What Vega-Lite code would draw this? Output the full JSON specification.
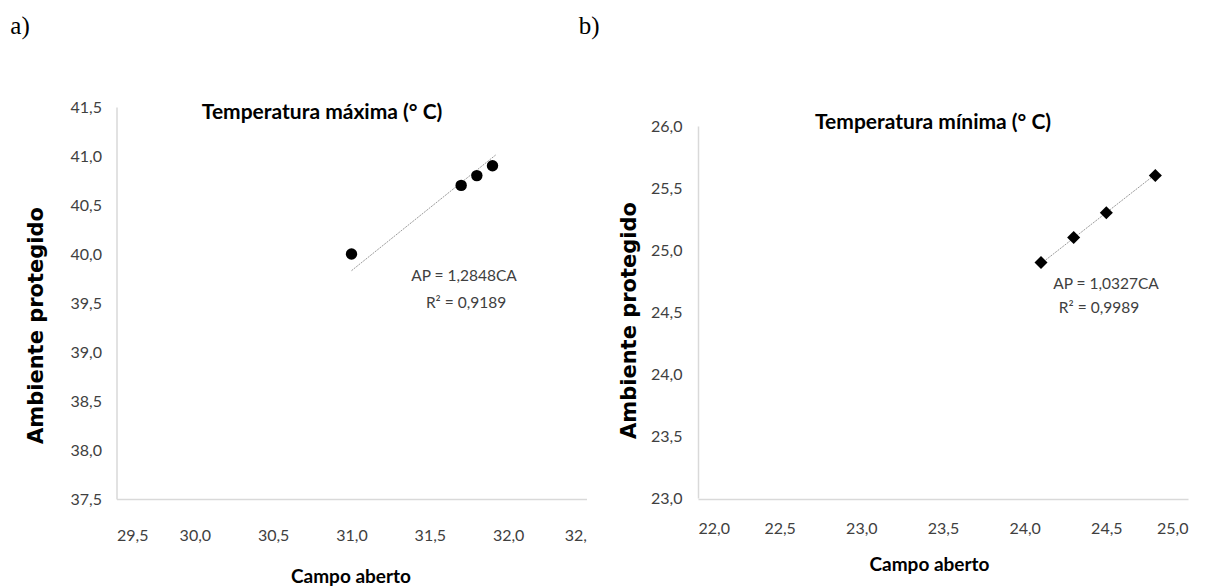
{
  "$schema": "https://vega.github.io/schema/vega-lite/v6.json",
  "background": "white",
  "padding": {"left": 9.5, "top": 13, "right": 0, "bottom": 0},
  "bounds": "flush",
  "spacing": 111.5,
  "datasets": {
    "pointsA": [
      {"ca": 31.0, "ap": 40.0},
      {"ca": 31.7, "ap": 40.7},
      {"ca": 31.8, "ap": 40.8},
      {"ca": 31.9, "ap": 40.9}
    ],
    "trendA": [
      {"ca": 31.0, "ap": 39.83},
      {"ca": 31.92, "ap": 41.01}
    ],
    "pointsB": [
      {"ca": 24.1, "ap": 24.9},
      {"ca": 24.3, "ap": 25.1},
      {"ca": 24.5, "ap": 25.3},
      {"ca": 24.8, "ap": 25.6}
    ],
    "trendB": [
      {"ca": 24.1, "ap": 24.89},
      {"ca": 24.8, "ap": 25.61}
    ]
  },
  "config": {
    "view": {"stroke": null},
    "axis": {
      "grid": false,
      "ticks": false,
      "tickSize": 0,
      "domainColor": "#d9d9d9",
      "domainWidth": 1.5,
      "labelColor": "#404040",
      "labelFont": "Lato",
      "labelFontSize": 16,
      "titleColor": "black"
    },
    "text": {"font": "Lato"}
  },
  "hconcat": [
    {
      "width": 470,
      "height": 392,
      "layer": [
        {
          "data": {"name": "trendA"},
          "mark": {"type": "line", "color": "#9a9a9a", "strokeWidth": 1, "strokeDash": [2, 1]},
          "encoding": {
            "x": {
              "field": "ca", "type": "quantitative",
              "scale": {"domain": [29.5, 32.5], "zero": false, "nice": false},
              "axis": {
                "values": [29.5, 30, 30.5, 31, 31.5, 32, 32.5],
                "labelExpr": "datum.value == 32.5 ? '32,' : replace(format(datum.value, '.1f'), '.', ',')",
                "labelPadding": 28,
                "title": "Campo aberto",
                "titleFont": "Lato",
                "titleFontSize": 19,
                "titleFontWeight": "bold",
                "titleBaseline": "middle",
                "titleX": 234,
                "titleY": 77
              }
            },
            "y": {
              "field": "ap", "type": "quantitative",
              "scale": {"domain": [37.5, 41.5], "zero": false, "nice": false},
              "axis": {
                "values": [37.5, 38, 38.5, 39, 39.5, 40, 40.5, 41, 41.5],
                "labelExpr": "replace(format(datum.value, '.1f'), '.', ',')",
                "labelPadding": 15,
                "title": "Ambiente protegido",
                "titleFont": "DejaVu Sans",
                "titleFontSize": 21,
                "titleFontWeight": "bold",
                "titleAngle": -90,
                "titleAlign": "center",
                "titleBaseline": "middle",
                "titleX": -80,
                "titleY": 218
              }
            }
          }
        },
        {
          "data": {"name": "pointsA"},
          "mark": {"type": "point", "shape": "circle", "filled": true, "color": "black", "opacity": 1, "size": 130},
          "encoding": {
            "x": {"field": "ca", "type": "quantitative"},
            "y": {"field": "ap", "type": "quantitative"}
          }
        },
        {
          "data": {"values": [{}]},
          "mark": {"type": "text", "text": "a)", "font": "Liberation Serif", "fontSize": 25, "color": "black", "align": "center", "baseline": "middle", "clip": false},
          "encoding": {"x": {"datum": 28.884}, "y": {"datum": 42.33}}
        },
        {
          "data": {"values": [{}]},
          "mark": {"type": "text", "text": "Temperatura máxima (° C)", "fontSize": 21, "fontWeight": "bold", "color": "black", "align": "center", "baseline": "middle"},
          "encoding": {"x": {"datum": 30.812}, "y": {"datum": 41.439}}
        },
        {
          "data": {"values": [{}]},
          "mark": {"type": "text", "text": "AP = 1,2848CA", "fontSize": 15.5, "color": "#404040", "align": "center", "baseline": "middle"},
          "encoding": {"x": {"datum": 31.718}, "y": {"datum": 39.776}}
        },
        {
          "data": {"values": [{}]},
          "mark": {"type": "text", "text": "R² = 0,9189", "fontSize": 15.5, "color": "#404040", "align": "center", "baseline": "middle"},
          "encoding": {"x": {"datum": 31.731}, "y": {"datum": 39.5}}
        }
      ]
    },
    {
      "width": 490,
      "height": 392,
      "layer": [
        {
          "data": {"name": "trendB"},
          "mark": {"type": "line", "color": "#9a9a9a", "strokeWidth": 1, "strokeDash": [2, 1]},
          "encoding": {
            "x": {
              "field": "ca", "type": "quantitative",
              "scale": {"domain": [22, 25], "zero": false, "nice": false},
              "axis": {
                "values": [22, 22.5, 23, 23.5, 24, 24.5, 25],
                "labelExpr": "replace(format(datum.value, '.1f'), '.', ',')",
                "labelPadding": 21,
                "title": "Campo aberto",
                "titleFont": "Lato",
                "titleFontSize": 19,
                "titleFontWeight": "bold",
                "titleBaseline": "middle",
                "titleX": 231,
                "titleY": 65
              }
            },
            "y": {
              "field": "ap", "type": "quantitative",
              "scale": {"domain": [23, 26], "zero": false, "nice": false, "range": [391, 19]},
              "axis": {
                "values": [23, 23.5, 24, 24.5, 25, 25.5, 26],
                "labelExpr": "replace(format(datum.value, '.1f'), '.', ',')",
                "labelPadding": 16,
                "title": "Ambiente protegido",
                "titleFont": "DejaVu Sans",
                "titleFontSize": 21,
                "titleFontWeight": "bold",
                "titleAngle": -90,
                "titleAlign": "center",
                "titleBaseline": "middle",
                "titleX": -69,
                "titleY": 213
              }
            }
          }
        },
        {
          "data": {"name": "pointsB"},
          "mark": {"type": "point", "shape": "diamond", "filled": true, "color": "black", "opacity": 1, "size": 170},
          "encoding": {
            "x": {"field": "ca", "type": "quantitative"},
            "y": {"field": "ap", "type": "quantitative"}
          }
        },
        {
          "data": {"values": [{}]},
          "mark": {"type": "text", "text": "b)", "font": "Liberation Serif", "fontSize": 25, "color": "black", "align": "center", "baseline": "middle", "clip": false},
          "encoding": {"x": {"datum": 21.333}, "y": {"datum": 26.806}}
        },
        {
          "data": {"values": [{}]},
          "mark": {"type": "text", "text": "Temperatura mínima (° C)", "fontSize": 21, "fontWeight": "bold", "color": "black", "align": "center", "baseline": "middle"},
          "encoding": {"x": {"datum": 23.439}, "y": {"datum": 26.024}}
        },
        {
          "data": {"values": [{}]},
          "mark": {"type": "text", "text": "AP = 1,0327CA", "fontSize": 15.5, "color": "#404040", "align": "center", "baseline": "middle"},
          "encoding": {"x": {"datum": 24.498}, "y": {"datum": 24.726}}
        },
        {
          "data": {"values": [{}]},
          "mark": {"type": "text", "text": "R² = 0,9989", "fontSize": 15.5, "color": "#404040", "align": "center", "baseline": "middle"},
          "encoding": {"x": {"datum": 24.455}, "y": {"datum": 24.532}}
        }
      ]
    }
  ]
}
